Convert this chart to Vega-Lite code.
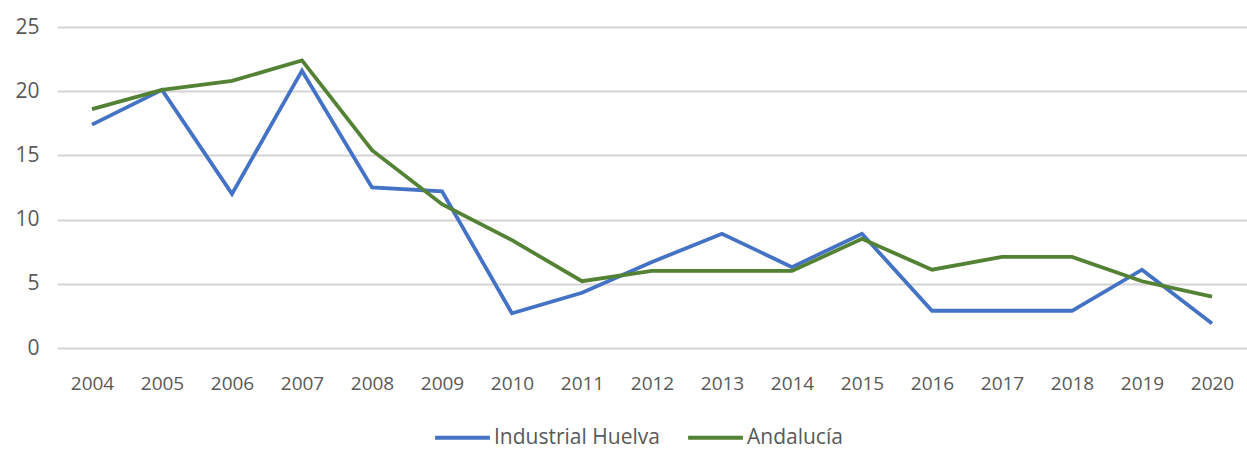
{
  "$schema": "https://vega.github.io/schema/vega-lite/v6.json",
  "autosize": "none",
  "width": 1190,
  "height": 321,
  "padding": {"left": 57, "top": 27, "right": 0, "bottom": 102},
  "background": "white",
  "config": {
    "view": {"stroke": null},
    "font": "Open Sans"
  },
  "data": {
    "values": [
      {"year": "2004", "series": "Industrial Huelva", "value": 17.4},
      {"year": "2005", "series": "Industrial Huelva", "value": 20.1},
      {"year": "2006", "series": "Industrial Huelva", "value": 12.0},
      {"year": "2007", "series": "Industrial Huelva", "value": 21.6},
      {"year": "2008", "series": "Industrial Huelva", "value": 12.5},
      {"year": "2009", "series": "Industrial Huelva", "value": 12.2},
      {"year": "2010", "series": "Industrial Huelva", "value": 2.7},
      {"year": "2011", "series": "Industrial Huelva", "value": 4.3},
      {"year": "2012", "series": "Industrial Huelva", "value": 6.7},
      {"year": "2013", "series": "Industrial Huelva", "value": 8.9},
      {"year": "2014", "series": "Industrial Huelva", "value": 6.3},
      {"year": "2015", "series": "Industrial Huelva", "value": 8.9},
      {"year": "2016", "series": "Industrial Huelva", "value": 2.9},
      {"year": "2017", "series": "Industrial Huelva", "value": 2.9},
      {"year": "2018", "series": "Industrial Huelva", "value": 2.9},
      {"year": "2019", "series": "Industrial Huelva", "value": 6.1},
      {"year": "2020", "series": "Industrial Huelva", "value": 1.9},
      {"year": "2004", "series": "Andalucía", "value": 18.6},
      {"year": "2005", "series": "Andalucía", "value": 20.1},
      {"year": "2006", "series": "Andalucía", "value": 20.8},
      {"year": "2007", "series": "Andalucía", "value": 22.4},
      {"year": "2008", "series": "Andalucía", "value": 15.4},
      {"year": "2009", "series": "Andalucía", "value": 11.2},
      {"year": "2010", "series": "Andalucía", "value": 8.4},
      {"year": "2011", "series": "Andalucía", "value": 5.2},
      {"year": "2012", "series": "Andalucía", "value": 6.0},
      {"year": "2013", "series": "Andalucía", "value": 6.0},
      {"year": "2014", "series": "Andalucía", "value": 6.0},
      {"year": "2015", "series": "Andalucía", "value": 8.5},
      {"year": "2016", "series": "Andalucía", "value": 6.1},
      {"year": "2017", "series": "Andalucía", "value": 7.1},
      {"year": "2018", "series": "Andalucía", "value": 7.1},
      {"year": "2019", "series": "Andalucía", "value": 5.2},
      {"year": "2020", "series": "Andalucía", "value": 4.0}
    ]
  },
  "mark": {"type": "line", "strokeWidth": 3.8, "strokeJoin": "miter"},
  "encoding": {
    "x": {
      "field": "year",
      "type": "ordinal",
      "scale": {"type": "point", "padding": 0.5},
      "axis": {
        "title": null,
        "labelAngle": 0,
        "labelFontSize": 19,
        "labelColor": "#595959",
        "labelPadding": 26,
        "ticks": false,
        "domain": false,
        "grid": false
      }
    },
    "y": {
      "field": "value",
      "type": "quantitative",
      "scale": {"domain": [0, 25], "nice": false},
      "axis": {
        "title": null,
        "values": [0, 5, 10, 15, 20, 25],
        "labelFontSize": 21,
        "labelColor": "#595959",
        "labelPadding": 18,
        "ticks": false,
        "domain": false,
        "grid": true,
        "gridColor": "#d4d4d4",
        "gridWidth": 2
      }
    },
    "color": {
      "field": "series",
      "type": "nominal",
      "sort": ["Industrial Huelva", "Andalucía"],
      "scale": {"domain": ["Industrial Huelva", "Andalucía"], "range": ["#4472C4", "#548235"]},
      "legend": {
        "title": null,
        "orient": "none",
        "direction": "horizontal",
        "legendX": 376,
        "legendY": 381,
        "symbolType": "stroke",
        "symbolSize": 3000,
        "symbolStrokeWidth": 4,
        "labelFontSize": 21,
        "labelLimit": 400,
        "labelColor": "#595959",
        "labelOffset": 2,
        "columnPadding": 20
      }
    }
  }
}
